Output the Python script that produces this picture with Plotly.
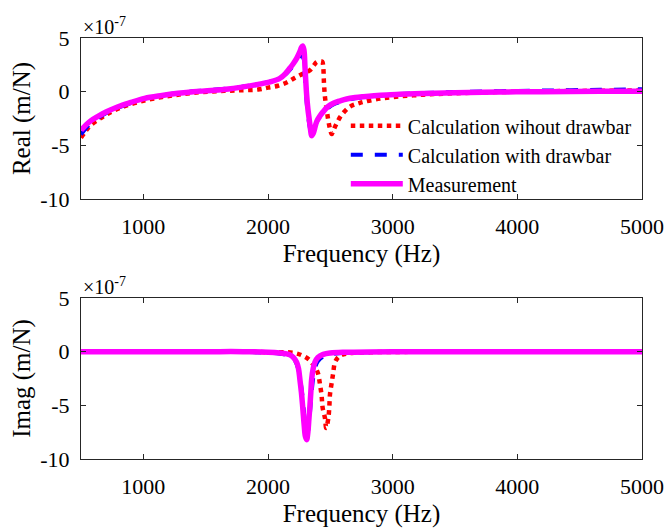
import plotly.graph_objects as go
from plotly.subplots import make_subplots

# ---- Real part (units of 1e-7 m/N) ----
f_re_meas = [500, 540, 580, 636, 700, 797, 900, 1010, 1150, 1278, 1400, 1543, 1700,
             1813, 1920, 2024, 2096, 2144, 2176, 2205, 2230, 2255, 2268, 2278, 2288,
             2297, 2310, 2320, 2331, 2342, 2350, 2362, 2375, 2390, 2415, 2443, 2480,
             2524, 2580, 2631, 2700, 2764, 2850, 2952, 3058, 3250, 3500, 3860, 4200,
             4662, 5000]
re_meas = [-3.6, -3.1, -2.7, -2.3, -1.9, -1.4, -1.0, -0.62, -0.35, -0.15, 0.0, 0.1, 0.28,
           0.47, 0.68, 0.93, 1.25, 1.74, 2.2, 2.65, 3.1, 3.7, 4.1, 4.25, 3.9,
           2.2, -0.3, -1.6, -2.6, -3.6, -4.1, -3.9, -3.4, -2.8, -2.3, -1.86, -1.4,
           -1.08, -0.85, -0.68, -0.55, -0.47, -0.38, -0.3, -0.25, -0.17, -0.1, -0.03, 0.0,
           0.03, 0.05]

f_re_with = [500, 540, 580, 636, 700, 797, 900, 1010, 1150, 1278, 1400, 1543, 1700,
             1813, 1920, 2024, 2096, 2144, 2176, 2205, 2230, 2255, 2270, 2278, 2288,
             2297, 2310, 2322, 2335, 2348, 2358, 2370, 2385, 2400, 2443, 2480, 2524,
             2580, 2631, 2700, 2764, 2850, 2952, 3058, 3250, 3500, 3860, 4200, 4662, 5000]
re_with = [-4.0, -3.4, -2.95, -2.45, -2.0, -1.5, -1.05, -0.65, -0.35, -0.12, 0.03, 0.15, 0.32,
           0.5, 0.7, 0.95, 1.25, 1.65, 2.05, 2.45, 2.85, 3.35, 3.6, 3.4, 2.6,
           1.2, -1.0, -2.3, -3.3, -3.9, -4.0, -3.6, -3.0, -2.6, -1.95, -1.55, -1.2,
           -0.95, -0.78, -0.62, -0.52, -0.4, -0.3, -0.22, -0.12, -0.04, 0.05, 0.1, 0.17, 0.22]

f_re_without = [500, 530, 570, 640, 700, 757, 850, 1000, 1150, 1300, 1450, 1600, 1750,
                1920, 2000, 2080, 2150, 2203, 2260, 2337, 2365, 2390, 2415, 2435, 2443,
                2449, 2457, 2470, 2484, 2498, 2511, 2525, 2551, 2591, 2658, 2738, 2850,
                3000, 3250, 3500, 4000, 4500, 5000]
re_without = [-4.3, -3.8, -3.2, -2.6, -2.15, -1.8, -1.35, -0.85, -0.5, -0.25, -0.05, 0.05, 0.12,
              0.2, 0.38, 0.55, 0.85, 1.2, 1.55, 2.0, 2.4, 2.75, 2.85, 2.8, 2.3,
              0.8, -0.5, -1.6, -2.7, -3.5, -3.95, -3.6, -2.95, -2.17, -1.4, -1.05, -0.75,
              -0.5, -0.28, -0.15, 0.0, 0.07, 0.12]

# ---- Imaginary part (units of 1e-7 m/N) ----
f_im_meas = [500, 1000, 1500, 1800, 2000, 2096, 2150, 2176, 2205, 2230, 2245, 2256, 2268,
             2278, 2290, 2300, 2310, 2320, 2328, 2336, 2344, 2350, 2362, 2376, 2400, 2443,
             2500, 2631, 3000, 4000, 5000]
im_meas = [0.0, 0.0, 0.0, 0.0, -0.05, -0.12, -0.2, -0.3, -0.55, -1.0, -1.6, -2.6, -3.8,
           -5.1, -6.8, -7.9, -8.2, -7.5, -6.3, -5.1, -3.7, -2.6, -1.6, -1.0, -0.55, -0.25,
           -0.12, -0.05, 0.0, 0.0, 0.0]

f_im_with = [500, 1800, 2000, 2100, 2176, 2220, 2245, 2260, 2275, 2290, 2303, 2315, 2327,
             2338, 2350, 2362, 2378, 2400, 2443, 2500, 2631, 3000, 4000, 5000]
im_with = [0.0, -0.02, -0.1, -0.2, -0.4, -0.9, -1.7, -2.7, -4.0, -5.8, -7.2, -7.7, -7.0,
           -5.5, -3.8, -2.5, -1.5, -0.9, -0.45, -0.25, -0.1, -0.03, 0.0, 0.0]

f_im_without = [500, 1800, 2000, 2203, 2283, 2330, 2363, 2390, 2403, 2417, 2430, 2438, 2457,
                2467, 2484, 2492, 2497, 2511, 2524, 2537, 2565, 2604, 2700, 3000, 4000, 5000]
im_without = [0.0, 0.0, -0.05, -0.1, -0.4, -0.75, -1.2, -1.7, -2.1, -3.05, -4.1, -5.2, -6.2,
              -7.1, -6.2, -5.1, -4.0, -2.9, -1.9, -1.0, -0.5, -0.25, -0.1, -0.03, 0.0, 0.0]

names = ["Calculation wihout drawbar", "Calculation with drawbar", "Measurement"]
x_ticks = [1000, 2000, 3000, 4000, 5000]
y_ticks = [-10, -5, 0, 5]
y_ticklabels = ["-10", "-5", "0", "5"]

FONT = "Liberation Serif"
AX = "#262626"
RED, BLUE, MAGENTA = "#ff0000", "#0000ff", "#ff00ff"

fig = make_subplots(rows=2, cols=1, vertical_spacing=0.235)

styles = [
    dict(color=RED, width=4.5, dash="dot"),
    dict(color=BLUE, width=4, dash="dash"),
    dict(color=MAGENTA, width=5.5, dash="solid"),
]

real_sets = [(f_re_without, re_without), (f_re_with, re_with), (f_re_meas, re_meas)]
imag_sets = [(f_im_without, im_without), (f_im_with, im_with), (f_im_meas, im_meas)]

for i, ((fx, fy), st) in enumerate(zip(real_sets, styles)):
    fig.add_trace(go.Scatter(x=fx, y=fy, mode="lines", name=names[i], line=st,
                             line_shape="spline", showlegend=True), row=1, col=1)
for i, ((fx, fy), st) in enumerate(zip(imag_sets, styles)):
    fig.add_trace(go.Scatter(x=fx, y=fy, mode="lines", name=names[i], line=st,
                             line_shape="spline", showlegend=False), row=2, col=1)

axis_common = dict(
    showline=True, linecolor=AX, linewidth=1, mirror="ticks",
    ticks="inside", ticklen=5, tickcolor=AX, tickwidth=1,
    showgrid=False, zeroline=False, automargin=False,
    tickfont=dict(family=FONT, size=22, color="#000000"),
)

for r in (1, 2):
    fig.update_xaxes(range=[500, 5000], tickvals=x_ticks, ticklabelstandoff=8,
                     title=dict(text="Frequency (Hz)", font=dict(family=FONT, size=25, color="#000"),
                                standoff=6),
                     row=r, col=1, **axis_common)
    fig.update_yaxes(range=[-10, 5], tickvals=y_ticks, ticktext=y_ticklabels,
                     ticklabelstandoff=6,
                     title=dict(text="Real (m/N)" if r == 1 else "Imag (m/N)",
                                font=dict(family=FONT, size=25, color="#000"), standoff=2),
                     row=r, col=1, **axis_common)

fig.update_layout(
    width=666, height=530,
    margin=dict(l=81, r=24, t=38, b=71),
    paper_bgcolor="white", plot_bgcolor="white",
    font=dict(family=FONT, color="#000"),
    legend=dict(x=0.472, y=0.838, xanchor="left", yanchor="top",
                font=dict(family=FONT, size=20, color="#000"),
                bgcolor="rgba(255,255,255,0)", borderwidth=0,
                itemwidth=52, tracegroupgap=0),
)
fig.update_yaxes(domain=[0.6176, 1.0], row=1, col=1)
fig.update_yaxes(domain=[0.0, 0.3824], row=2, col=1)

for yd in (1.0, 0.3824):
    fig.add_annotation(text="×10<sup>-7</sup>", xref="paper", yref="paper",
                       x=0.0, y=yd, xanchor="left", yanchor="bottom", showarrow=False,
                       font=dict(family=FONT, size=20, color="#000"), yshift=-2)

fig.write_html("out.html")
